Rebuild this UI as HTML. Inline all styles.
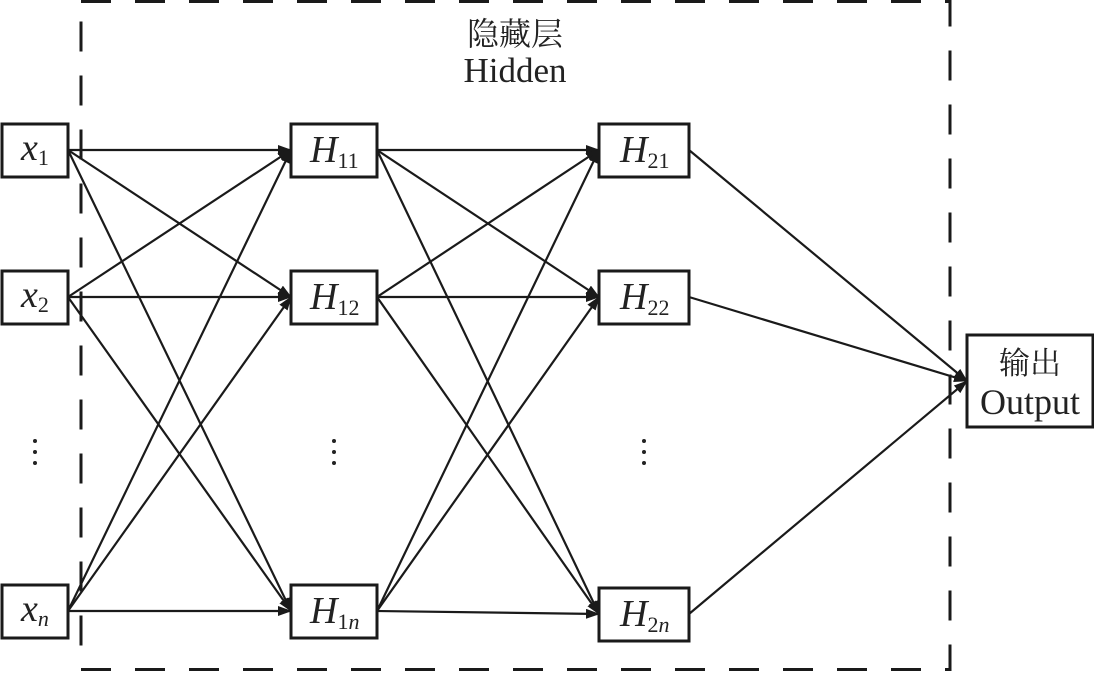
<!DOCTYPE html>
<html><head><meta charset="utf-8"><style>
html,body{margin:0;padding:0;background:#fff;}
svg text{font-family:"Liberation Serif","Noto Serif CJK SC",serif;fill:#222;}
</style></head><body>
<svg width="1094" height="672" viewBox="0 0 1094 672" xmlns="http://www.w3.org/2000/svg">
<defs>
<marker id="a" markerWidth="14" markerHeight="10" refX="13" refY="5" orient="auto" markerUnits="userSpaceOnUse">
<path d="M0,0 L14,5 L0,10 Z" fill="#1a1a1a"/></marker>
</defs>
<rect x="81" y="1.5" width="869" height="668" fill="none" stroke="#1a1a1a" stroke-width="3" stroke-dasharray="30,24"/>
<text x="515" y="45" font-size="32" text-anchor="middle">隐藏层</text>
<text x="515" y="82" font-size="35" text-anchor="middle">Hidden</text>
<g stroke="#1a1a1a" stroke-width="2.2" fill="none" marker-end="url(#a)">
<line x1="68" y1="150" x2="291" y2="150"/><line x1="68" y1="150" x2="291" y2="297"/><line x1="68" y1="150" x2="291" y2="611"/>
<line x1="68" y1="297" x2="291" y2="150"/><line x1="68" y1="297" x2="291" y2="297"/><line x1="68" y1="297" x2="291" y2="611"/>
<line x1="68" y1="611" x2="291" y2="150"/><line x1="68" y1="611" x2="291" y2="297"/><line x1="68" y1="611" x2="291" y2="611"/>
<line x1="377" y1="150" x2="599" y2="150"/><line x1="377" y1="150" x2="599" y2="297"/><line x1="377" y1="150" x2="599" y2="614"/>
<line x1="377" y1="297" x2="599" y2="150"/><line x1="377" y1="297" x2="599" y2="297"/><line x1="377" y1="297" x2="599" y2="614"/>
<line x1="377" y1="611" x2="599" y2="150"/><line x1="377" y1="611" x2="599" y2="297"/><line x1="377" y1="611" x2="599" y2="614"/>
<line x1="689" y1="150" x2="967" y2="381"/><line x1="689" y1="297" x2="967" y2="381"/><line x1="689" y1="614" x2="967" y2="381"/>
</g>
<g fill="#fff" stroke="#1a1a1a" stroke-width="3">
<rect x="2" y="124" width="66" height="53"/><rect x="2" y="271" width="66" height="53"/><rect x="2" y="585" width="66" height="53"/>
<rect x="291" y="124" width="86" height="53"/><rect x="291" y="271" width="86" height="53"/><rect x="291" y="585" width="86" height="53"/>
<rect x="599" y="124" width="90" height="53"/><rect x="599" y="271" width="90" height="53"/><rect x="599" y="588" width="90" height="53"/>
<rect x="967" y="335" width="126" height="92"/>
</g>
<g font-size="38">
<text x="21" y="160" font-style="italic">x<tspan font-size="22" font-style="normal" dy="5">1</tspan></text>
<text x="21" y="307" font-style="italic">x<tspan font-size="22" font-style="normal" dy="5">2</tspan></text>
<text x="21" y="621" font-style="italic">x<tspan font-size="22" font-style="italic" dy="5">n</tspan></text>
<text x="310" y="162" font-style="italic">H<tspan font-size="22" font-style="normal" dy="6">11</tspan></text>
<text x="310" y="309" font-style="italic">H<tspan font-size="22" font-style="normal" dy="6">12</tspan></text>
<text x="310" y="623" font-style="italic">H<tspan font-size="22" font-style="normal" dy="6">1</tspan><tspan font-size="22" font-style="italic">n</tspan></text>
<text x="620" y="162" font-style="italic">H<tspan font-size="22" font-style="normal" dy="6">21</tspan></text>
<text x="620" y="309" font-style="italic">H<tspan font-size="22" font-style="normal" dy="6">22</tspan></text>
<text x="620" y="626" font-style="italic">H<tspan font-size="22" font-style="normal" dy="6">2</tspan><tspan font-size="22" font-style="italic">n</tspan></text>
</g>
<text x="1030" y="374" font-size="31" text-anchor="middle">输出</text>
<text x="1030" y="414" font-size="36" text-anchor="middle">Output</text>
<g fill="#222">
<circle cx="35" cy="441" r="2"/><circle cx="35" cy="452" r="2"/><circle cx="35" cy="463" r="2"/>
<circle cx="334" cy="441" r="2"/><circle cx="334" cy="452" r="2"/><circle cx="334" cy="463" r="2"/>
<circle cx="644" cy="441" r="2"/><circle cx="644" cy="452" r="2"/><circle cx="644" cy="463" r="2"/>
</g>
</svg>
</body></html>
